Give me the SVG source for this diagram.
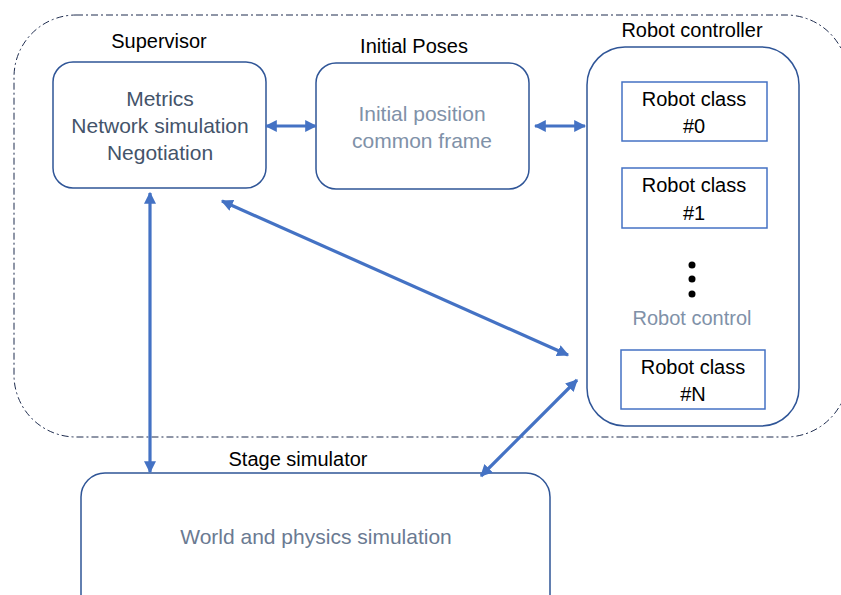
<svg xmlns="http://www.w3.org/2000/svg" width="841" height="595" viewBox="0 0 841 595">
<style>
text{font-family:"Liberation Sans",Arial,sans-serif;font-size:20px;text-anchor:middle}
.in{font-size:21px}
.title{fill:#000}
.dark{fill:#44546A}
.light{fill:#8091A8}
.mid{fill:#6A7A92}
.blk{fill:#000}
.box{fill:#fff;stroke:#2F5597;stroke-width:1.5}
.cls{fill:#fff;stroke:#4472C4;stroke-width:1.5}
.conn{stroke:#4472C4;stroke-width:3.2;fill:none;marker-start:url(#ah);marker-end:url(#ah)}
</style>
<defs>
<marker id="ah" viewBox="0 0 10 10" refX="9" refY="5" markerWidth="12" markerHeight="12" markerUnits="userSpaceOnUse" orient="auto-start-reverse">
<path d="M0,0 L10,5 L0,10 z" fill="#4472C4"/>
</marker>
</defs>
<rect width="841" height="595" fill="#fff"/>
<g id="boundary">
<rect x="14" y="15" width="834" height="422" rx="62" ry="62" fill="none" stroke="#1F2D4F" stroke-width="1" stroke-dasharray="7 3 2 3"/>
</g>
<g id="supervisor">
<text class="title" x="159" y="48">Supervisor</text>
<rect class="box" x="53" y="62" width="213" height="126" rx="20"/>
<text class="dark in" x="160" y="106">Metrics</text>
<text class="dark in" x="160" y="133">Network simulation</text>
<text class="dark in" x="160" y="160">Negotiation</text>
</g>
<g id="initial-poses">
<text class="title" x="414" y="53">Initial Poses</text>
<rect class="box" x="316" y="63" width="213" height="126" rx="20"/>
<text class="light in" x="422" y="121">Initial position</text>
<text class="light in" x="422" y="148">common frame</text>
</g>
<g id="robot-controller">
<text class="title" x="692" y="37">Robot controller</text>
<rect class="box" x="587" y="47" width="212" height="379" rx="38"/>
<g id="robot-class-0">
<rect class="cls" x="622" y="82" width="145" height="59"/>
<text class="blk" x="694" y="106">Robot class</text>
<text class="blk" x="694" y="133">#0</text>
</g>
<g id="robot-class-1">
<rect class="cls" x="622" y="168" width="145" height="60"/>
<text class="blk" x="694" y="192">Robot class</text>
<text class="blk" x="694" y="220">#1</text>
</g>
<g id="dots">
<circle cx="692" cy="265" r="3.5" fill="#000"/>
<circle cx="692" cy="279" r="3.5" fill="#000"/>
<circle cx="692" cy="294" r="3.5" fill="#000"/>
</g>
<text class="light" x="692" y="325">Robot control</text>
<g id="robot-class-n">
<rect class="cls" x="621" y="350" width="144" height="59"/>
<text class="blk" x="693" y="374">Robot class</text>
<text class="blk" x="693" y="401">#N</text>
</g>
</g>
<g id="stage-simulator">
<text class="title" x="298" y="466">Stage simulator</text>
<rect class="box" x="81" y="473" width="469" height="150" rx="24"/>
<text class="mid in" x="316" y="544">World and physics simulation</text>
</g>
<g id="connectors">
<line class="conn" x1="266" y1="126" x2="316" y2="126"/>
<line class="conn" x1="535" y1="126" x2="585" y2="126"/>
<line class="conn" x1="150" y1="193" x2="150" y2="472"/>
<line class="conn" x1="222" y1="201" x2="568" y2="355"/>
<line class="conn" x1="577" y1="380" x2="481" y2="476"/>
</g>
</svg>
